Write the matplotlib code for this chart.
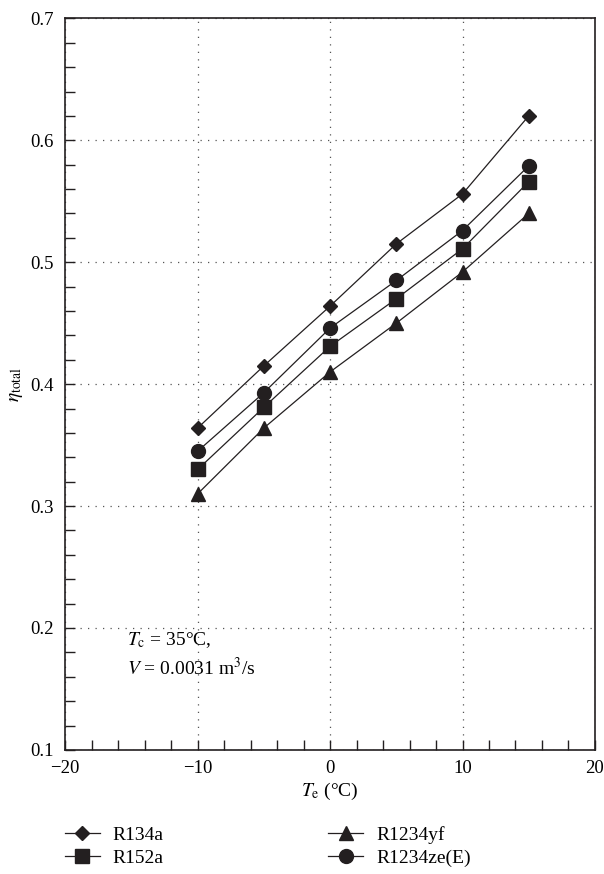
import matplotlib.pyplot as plt
from matplotlib.ticker import MultipleLocator

# evaporating temperature (°C)
te = [-10, -5, 0, 5, 10, 15]

# total efficiency for each refrigerant
r134a = [0.364, 0.415, 0.464, 0.515, 0.556, 0.620]
r152a = [0.330, 0.381, 0.431, 0.470, 0.511, 0.566]
r1234yf = [0.310, 0.364, 0.410, 0.450, 0.492, 0.540]
r1234ze = [0.345, 0.393, 0.446, 0.485, 0.526, 0.579]

xticks = [-20, -10, 0, 10, 20]
xticklabels = ['\u221220', '\u221210', '0', '10', '20']
yticks = [0.1, 0.2, 0.3, 0.4, 0.5, 0.6, 0.7]
yticklabels = ['0.1', '0.2', '0.3', '0.4', '0.5', '0.6', '0.7']

plt.rcParams['font.family'] = ['Liberation Serif', 'DejaVu Serif']
plt.rcParams['mathtext.fontset'] = 'stix'

fig = plt.figure(figsize=(6.04, 8.74), dpi=100)
ax = fig.add_axes([0.108, 0.142, 0.877, 0.837])

col = '#231f20'
ax.plot(te, r134a, '-', marker='D', color=col, ms=7.5, lw=0.9, label='R134a')
ax.plot(te, r152a, '-', marker='s', color=col, ms=9.5, lw=0.9, label='R152a')
ax.plot(te, r1234yf, '-', marker='^', color=col, ms=10.5, lw=0.9, label='R1234yf')
ax.plot(te, r1234ze, '-', marker='o', color=col, ms=10, lw=0.9, label='R1234ze(E)')

ax.set_xlim(-20, 20)
ax.set_ylim(0.1, 0.7)
ax.xaxis.set_minor_locator(MultipleLocator(2))
ax.yaxis.set_minor_locator(MultipleLocator(0.02))
ax.set_xticks(xticks)
ax.set_xticklabels(xticklabels)
ax.set_yticks(yticks)
ax.set_yticklabels(yticklabels)
ax.tick_params(which='both', direction='in', top=False, right=False,
               labelsize=13.5, color=col, length=7, width=1)
ax.tick_params(axis='x', pad=7)
ax.tick_params(axis='y', pad=8)

ax.grid(True, which='major', color='#555555', linestyle=(0, (1, 5)), lw=0.9)
for s in ax.spines.values():
    s.set_linewidth(1.2)
    s.set_color(col)

ax.set_xlabel(r'$T_{\mathrm{e}}$ (°C)', fontsize=14, labelpad=3)
ax.set_ylabel(r'$\eta_{\mathrm{total}}$', fontsize=14, labelpad=4)

ax.text(-15.3, 0.190, r'$T_{\mathrm{c}}$ = 35°C,', fontsize=14, va='center')
ax.text(-15.3, 0.167, r'$V$ = 0.0031 m$^3$/s', fontsize=14, va='center')

fig.legend(loc='upper left', bbox_to_anchor=(0.094, 0.064), ncol=2, frameon=False,
           fontsize=14, handlelength=1.8, columnspacing=8.5, labelspacing=0.3,
           handletextpad=0.65, borderaxespad=0)

fig.savefig('out.png', dpi=100)
